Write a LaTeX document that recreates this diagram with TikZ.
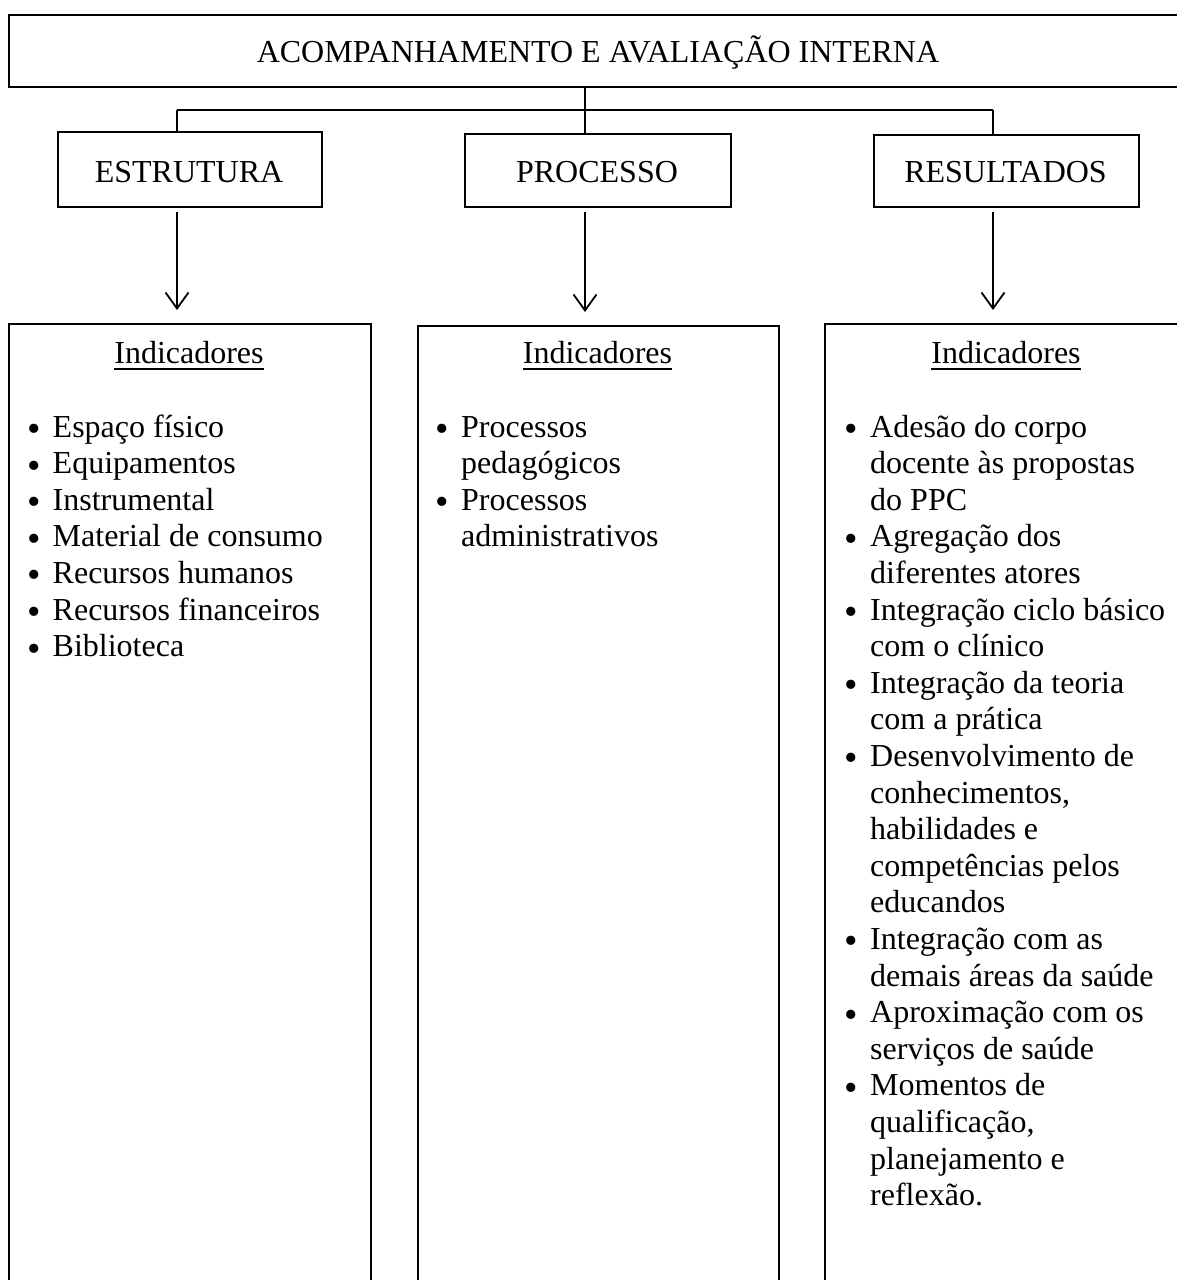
\documentclass[tikz,border=0pt]{standalone}
\usepackage{fontspec}
\setmainfont{Liberation Serif}
\usetikzlibrary{arrows.meta,calc}
\newcommand\mybul{\makebox[11pt][c]{\raisebox{-4.5pt}{\scalebox{1.2}{•}}}}
\begin{document}
\begin{tikzpicture}[x=1pt,y=-1pt,
  box/.style={draw,line width=1.8pt,inner sep=0pt,anchor=north west},
  lbl/.style={inner sep=0pt,font=\fontsize{32}{36.6}\selectfont},
  conn/.style={line width=1.8pt},
  arr/.style={line width=1.8pt,-{Straight Barb[length=16pt,width=23pt]},shorten <=4pt,shorten >=13pt},
  uline/.style={line width=1.6pt}]
\useasboundingbox (0,0) rectangle (1177,1280);
\clip (0,0) rectangle (1177,1280);

% title
\node[box,minimum width=1180pt,minimum height=72pt] (top) at (8,14) {};
\node[lbl,anchor=base] (toptxt) at (598,62) {ACOMPANHAMENTO E AVALIAÇÃO INTERNA};

% category boxes
\node[box,minimum width=264pt,minimum height=75pt] (s1) at (57,131) {};
\node[box,minimum width=266pt,minimum height=73pt] (s2) at (464,133) {};
\node[box,minimum width=265pt,minimum height=72pt] (s3) at (873,134) {};
\node[lbl,anchor=base] (t1) at (189,182) {ESTRUTURA};
\node[lbl,anchor=base] (t2) at (597,182) {PROCESSO};
\node[lbl,anchor=base] (t3) at (1005.5,182) {RESULTADOS};

% bus
\coordinate (busL) at (177,110);
\coordinate (busM) at (585,110);
\coordinate (busR) at (993,110);
\draw[conn] (top.south -| busM) -- (busM);
\draw[conn] (busL) -- (busR);
\draw[conn] (busL) -- (busL |- s1.north);
\draw[conn] (busM) -- (busM |- s2.north);
\draw[conn] (busR) -- (busR |- s3.north);

% column boxes
\node[box,minimum width=362pt,minimum height=1000pt] (c1) at (8,323) {};
\node[box,minimum width=361pt,minimum height=1000pt] (c2) at (417,325) {};
\node[box,minimum width=364pt,minimum height=1000pt] (c3) at (824,323) {};

% arrows
\draw[arr] (busL |- s1.south) -- (busL |- c1.north);
\draw[arr] (busM |- s2.south) -- (busM |- c2.north);
\draw[arr] (busR |- s3.south) -- (busR |- c3.north);

% headings
\node[lbl,anchor=base] (i1) at (189,363) {Indicadores};
\node[lbl,anchor=base] (i2) at (597.5,363) {Indicadores};
\node[lbl,anchor=base] (i3) at (1006,363) {Indicadores};
\foreach \n in {i1,i2,i3}{
  \draw[uline] ([yshift=-6pt]\n.base west) -- ([yshift=-6pt]\n.base east);
}

% lists
\node[lbl,anchor=base west] (l1) at (28.5,437) {\begin{tabular}[t]{@{}l@{\hspace{13pt}}l@{}}
\mybul & Espaço físico\\
\mybul & Equipamentos\\
\mybul & Instrumental\\
\mybul & Material de consumo\\
\mybul & Recursos humanos\\
\mybul & Recursos financeiros\\
\mybul & Biblioteca
\end{tabular}};

\node[lbl,anchor=base west] (l2) at (437,437) {\begin{tabular}[t]{@{}l@{\hspace{13pt}}l@{}}
\mybul & Processos\\
  & pedagógicos\\
\mybul & Processos\\
  & administrativos
\end{tabular}};

\node[lbl,anchor=base west] (l3) at (846,437) {\begin{tabular}[t]{@{}l@{\hspace{13pt}}l@{}}
\mybul & Adesão do corpo\\
  & docente às propostas\\
  & do PPC\\
\mybul & Agregação dos\\
  & diferentes atores\\
\mybul & Integração ciclo básico\\
  & com o clínico\\
\mybul & Integração da teoria\\
  & com a prática\\
\mybul & Desenvolvimento de\\
  & conhecimentos,\\
  & habilidades e\\
  & competências pelos\\
  & educandos\\
\mybul & Integração com as\\
  & demais áreas da saúde\\
\mybul & Aproximação com os\\
  & serviços de saúde\\
\mybul & Momentos de\\
  & qualificação,\\
  & planejamento e\\
  & reflexão.
\end{tabular}};
\end{tikzpicture}
\end{document}
